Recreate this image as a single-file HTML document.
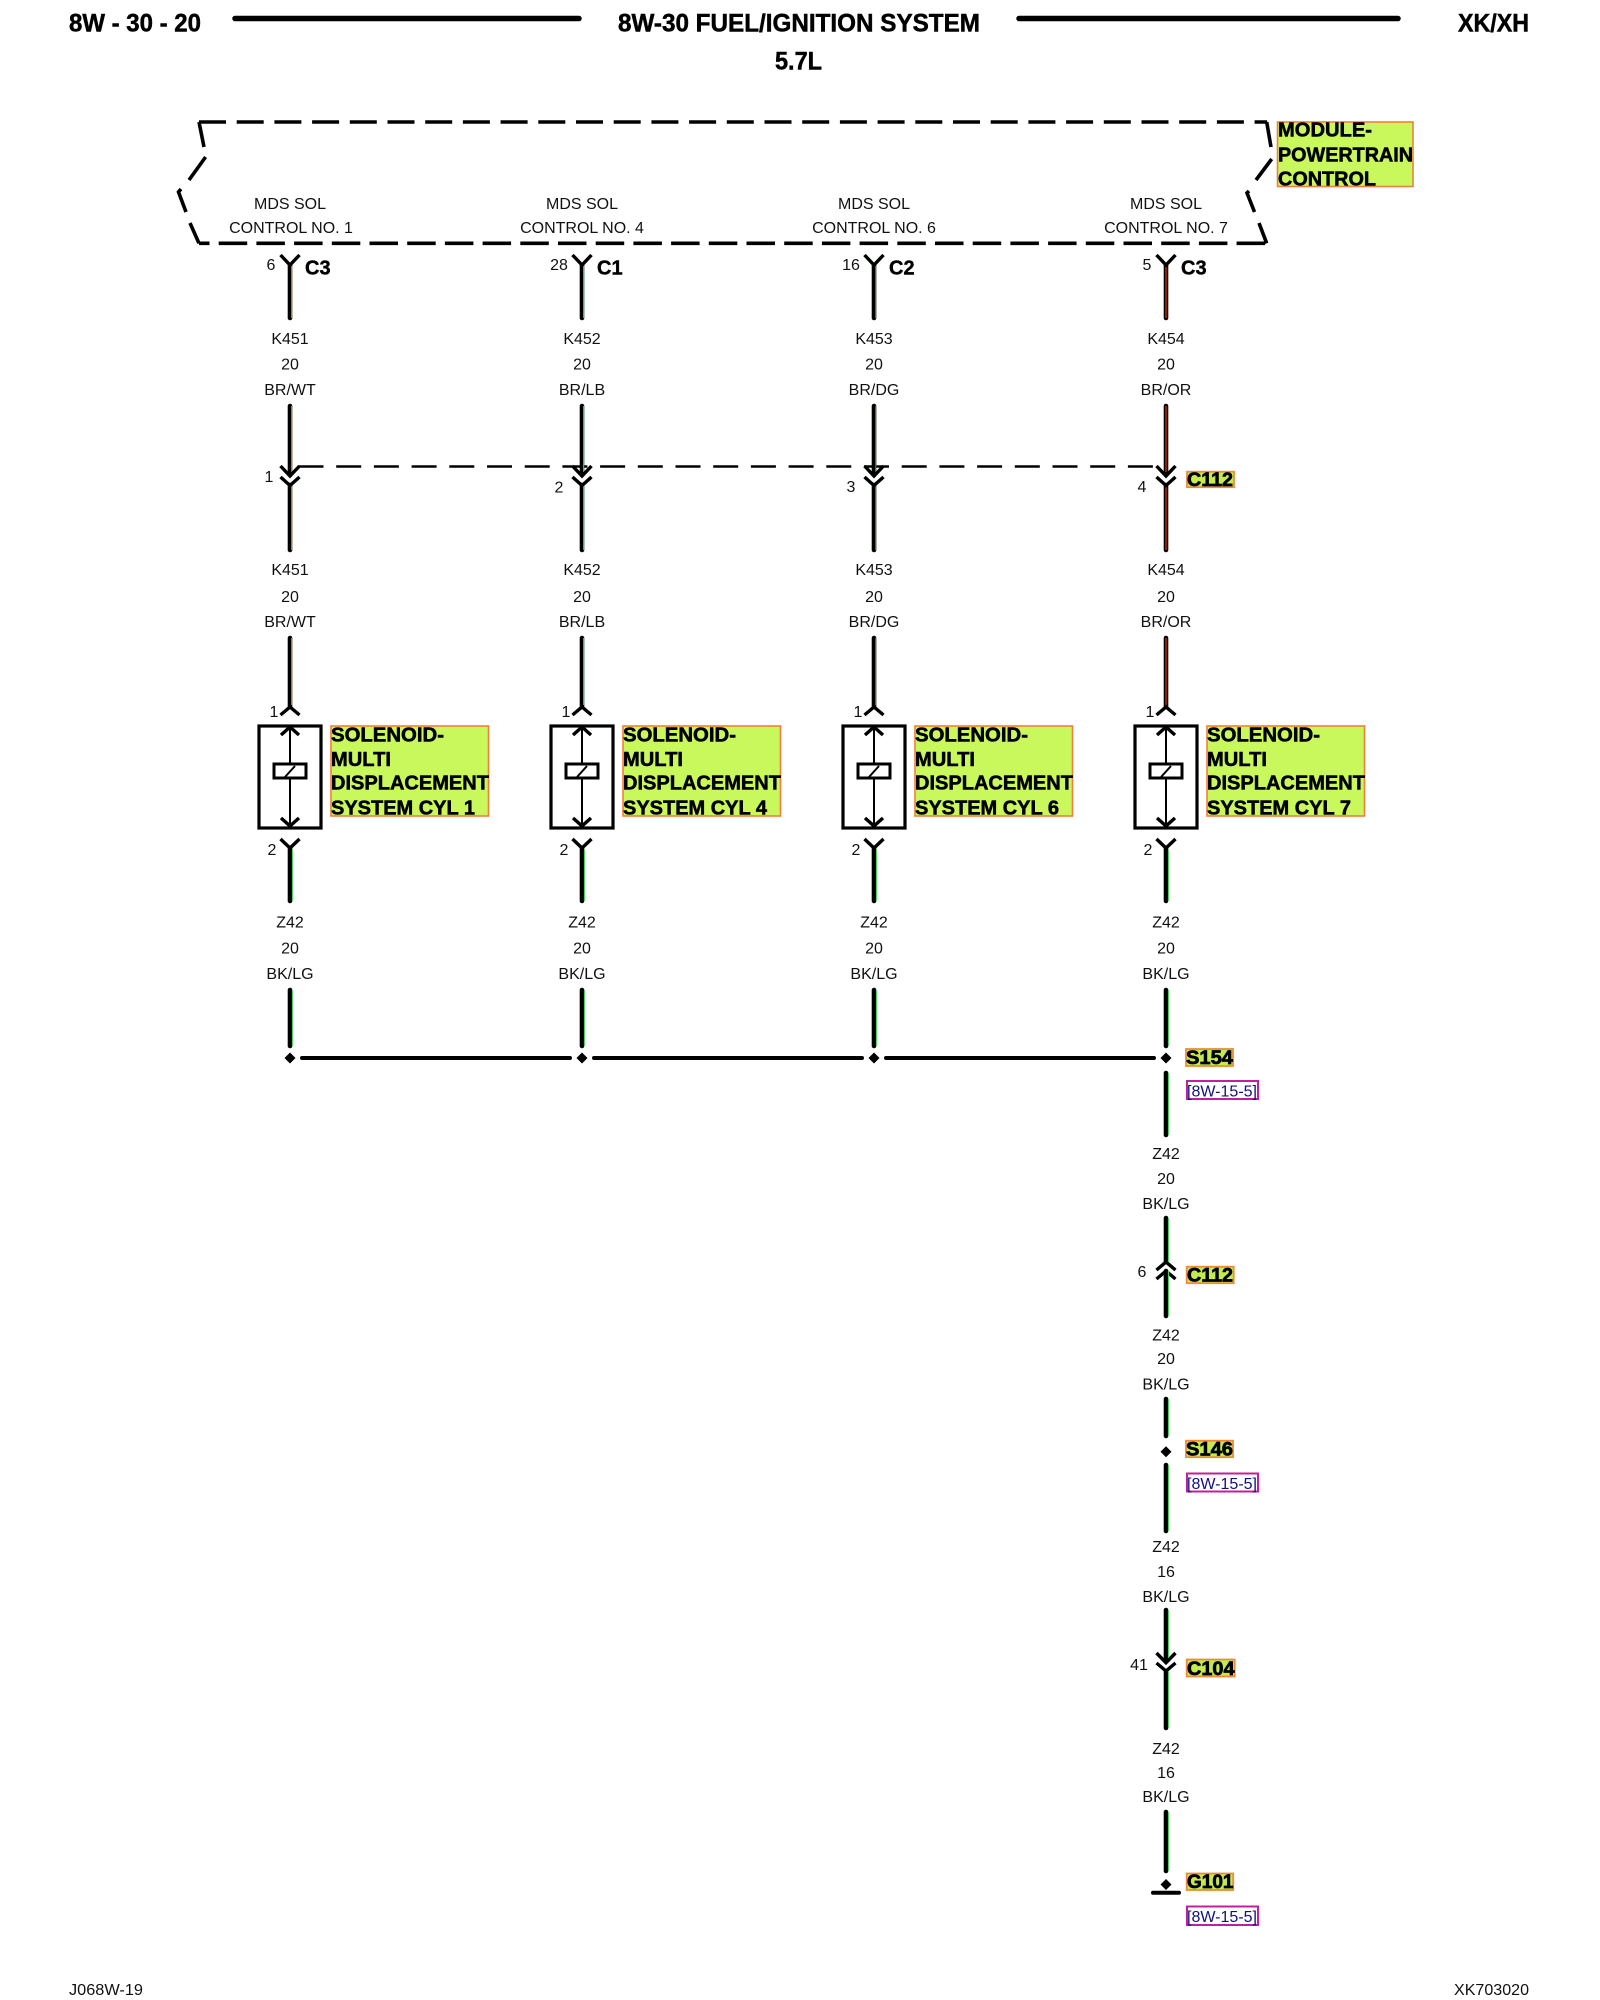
<!DOCTYPE html>
<html><head><meta charset="utf-8"><style>
html,body{margin:0;padding:0;background:#fff}
svg{display:block}
text{font-family:"Liberation Sans",sans-serif;fill:#000}
.t{font-size:16px;text-anchor:middle;fill:#111}
.h{font-size:25px;font-weight:bold;stroke:#000;stroke-width:.5px}
.c{font-size:20px;font-weight:bold;stroke:#000;stroke-width:.4px}
.g{font-size:20px;font-weight:bold;stroke:#000;stroke-width:.55px}
.l{font-size:19px;font-weight:bold;stroke:#000;stroke-width:.7px}
.r{font-size:16px;fill:#101080}
.ch{fill:none;stroke:#000;stroke-width:3.4}
.box{fill:#c9f85c;stroke:#f0803a;stroke-width:1.6}
.lab{fill:#c4ea4e;stroke:#f08a3a;stroke-width:1.8}
.ref{fill:#fff;stroke:#c020a0;stroke-width:2}
.w{stroke:#000;stroke-width:4.6;stroke-linecap:round;fill:none}
.m{fill:none;stroke:#000;stroke-width:3.6}
</style></head><body>
<svg width="1600" height="2000" viewBox="0 0 1600 2000" xmlns="http://www.w3.org/2000/svg">
<rect width="1600" height="2000" fill="#fff"/>
<!-- header -->
<text class="h" x="69" y="31.5" textLength="132" lengthAdjust="spacingAndGlyphs">8W - 30 - 20</text>
<path d="M235 18.5H579M1019 18.5H1398" stroke="#000" stroke-width="5.5" stroke-linecap="round"/>
<text class="h" x="618" y="31.5" textLength="362" lengthAdjust="spacingAndGlyphs">8W-30 FUEL/IGNITION SYSTEM</text>
<text class="h" x="775" y="69.5" textLength="47" lengthAdjust="spacingAndGlyphs">5.7L</text>
<text class="h" x="1458" y="31.5" textLength="71" lengthAdjust="spacingAndGlyphs">XK/XH</text>
<!-- module outline -->
<path class="m" stroke-dasharray="27 10.7" d="M199 122H1267"/>
<path class="m" stroke-dasharray="28.5 9.2" stroke-dashoffset="18" d="M199 243.3H1267"/>
<path class="m" d="M199 122L204 147M205.6 157L189 180M181 189L178.5 192L186 212M190 223L199 243.3"/>
<path class="m" d="M1266.7 122L1271 147M1271.7 159L1256 180M1249 191L1247 193L1254.5 212M1259 223L1266.7 243.3"/>
<rect class="box" x="1277.5" y="122" width="135.5" height="64.5"/>
<text class="g" x="1278" y="136.7" textLength="94" lengthAdjust="spacingAndGlyphs">MODULE-</text>
<text class="g" x="1278" y="161.7" textLength="135" lengthAdjust="spacingAndGlyphs">POWERTRAIN</text>
<text class="g" x="1278" y="185.7" textLength="98" lengthAdjust="spacingAndGlyphs">CONTROL</text>
<!-- module text -->
<text class="t" x="290" y="209">MDS SOL</text><text class="t" x="291" y="233">CONTROL NO. 1</text>
<text class="t" x="582" y="209">MDS SOL</text><text class="t" x="582" y="233">CONTROL NO. 4</text>
<text class="t" x="874" y="209">MDS SOL</text><text class="t" x="874" y="233">CONTROL NO. 6</text>
<text class="t" x="1166" y="209">MDS SOL</text><text class="t" x="1166" y="233">CONTROL NO. 7</text>
<!-- pin / connector labels top -->
<text class="t" x="271" y="270">6</text><text class="c" x="305" y="274.5">C3</text>
<text class="t" x="559" y="270">28</text><text class="c" x="597" y="274.5">C1</text>
<text class="t" x="851" y="270">16</text><text class="c" x="889" y="274.5">C2</text>
<text class="t" x="1147" y="270">5</text><text class="c" x="1181" y="274.5">C3</text>
<!-- dashed link -->
<path d="M298.5 466.5H1157" stroke="#000" stroke-width="2.6" stroke-dasharray="25 12.7" fill="none"/>
<!-- wires top -->
<g class="w">
<path d="M290 265V318M290 406V472M290 485V550M290 638V707"/>
<path d="M582 265V318M582 406V472M582 485V550M582 638V707"/>
<path d="M874 265V318M874 406V472M874 485V550M874 638V707"/>
<path d="M1166 265V318M1166 406V472M1166 485V550M1166 638V707"/>
</g>
<path d="M291.6 266V318M291.6 406V472M291.6 485V550M291.6 638V705" stroke="#b87a18" stroke-width="1.2"/>
<path d="M583.6 266V318M583.6 406V472M583.6 485V550M583.6 638V705" stroke="#20c090" stroke-width="1.2"/>
<path d="M875.6 266V318M875.6 406V472M875.6 485V550M875.6 638V705" stroke="#308020" stroke-width="1.2"/>
<path d="M1166 266V318M1166 406V472M1166 485V550M1166 638V705" stroke="#a02000" stroke-width="1.8"/>
<!-- wire labels 1 -->
<g>
<text class="t" x="290" y="344">K451</text><text class="t" x="290" y="369.7">20</text><text class="t" x="290" y="395">BR/WT</text>
<text class="t" x="582" y="344">K452</text><text class="t" x="582" y="369.7">20</text><text class="t" x="582" y="395">BR/LB</text>
<text class="t" x="874" y="344">K453</text><text class="t" x="874" y="369.7">20</text><text class="t" x="874" y="395">BR/DG</text>
<text class="t" x="1166" y="344">K454</text><text class="t" x="1166" y="369.7">20</text><text class="t" x="1166" y="395">BR/OR</text>
<text class="t" x="290" y="575">K451</text><text class="t" x="290" y="602">20</text><text class="t" x="290" y="627">BR/WT</text>
<text class="t" x="582" y="575">K452</text><text class="t" x="582" y="602">20</text><text class="t" x="582" y="627">BR/LB</text>
<text class="t" x="874" y="575">K453</text><text class="t" x="874" y="602">20</text><text class="t" x="874" y="627">BR/DG</text>
<text class="t" x="1166" y="575">K454</text><text class="t" x="1166" y="602">20</text><text class="t" x="1166" y="627">BR/OR</text>
</g>
<!-- chevrons -->
<g class="ch">
<path d="M280.5 255L290 265L299.5 255M572.5 255L582 265L591.5 255M864.5 255L874 265L883.5 255M1156.5 255L1166 265L1175.5 255"/>
<path d="M280.5 466L290 476L299.5 466M280.5 477L290 485.5L299.5 477"/>
<path d="M572.5 466L582 476L591.5 466M572.5 477L582 485.5L591.5 477"/>
<path d="M864.5 466L874 476L883.5 466M864.5 477L874 485.5L883.5 477"/>
<path d="M1156.5 466L1166 476L1175.5 466M1156.5 477L1166 485.5L1175.5 477"/>
<path d="M280.5 715L290 707L299.5 715M572.5 715L582 707L591.5 715M864.5 715L874 707L883.5 715M1156.5 715L1166 707L1175.5 715"/>
<path d="M280.5 839L290 848L299.5 839M572.5 839L582 848L591.5 839M864.5 839L874 848L883.5 839M1156.5 839L1166 848L1175.5 839"/>
<path d="M1156.5 1270L1166 1262L1175.5 1270M1156.5 1279L1166 1271L1175.5 1279"/>
<path d="M1156.5 1653L1166 1662.7L1175.5 1653M1156.5 1663L1166 1671L1175.5 1663"/>
</g>
<text class="t" x="269" y="482">1</text><text class="t" x="559" y="492.7">2</text><text class="t" x="851" y="492">3</text><text class="t" x="1142" y="492">4</text>
<rect class="lab" x="1187" y="471.7" width="47" height="15.5"/><text class="l" x="1187" y="486" textLength="46" lengthAdjust="spacingAndGlyphs">C112</text>
<!-- solenoids -->
<g>
<rect x="259" y="726" width="62" height="102" fill="none" stroke="#000" stroke-width="3.2"/>
<path d="M290 728V826" stroke="#000" stroke-width="2"/>
<path class="ch" d="M281 735L290 727L299 735M281 818L290 826L299 818"/>
<rect x="274" y="764" width="32" height="14" fill="#fff" stroke="#000" stroke-width="3"/>
<path d="M285 777L295 766" stroke="#000" stroke-width="2"/>
</g>
<g>
<rect x="551" y="726" width="62" height="102" fill="none" stroke="#000" stroke-width="3.2"/>
<path d="M582 728V826" stroke="#000" stroke-width="2"/>
<path class="ch" d="M573 735L582 727L591 735M573 818L582 826L591 818"/>
<rect x="566" y="764" width="32" height="14" fill="#fff" stroke="#000" stroke-width="3"/>
<path d="M577 777L587 766" stroke="#000" stroke-width="2"/>
</g>
<g>
<rect x="843" y="726" width="62" height="102" fill="none" stroke="#000" stroke-width="3.2"/>
<path d="M874 728V826" stroke="#000" stroke-width="2"/>
<path class="ch" d="M865 735L874 727L883 735M865 818L874 826L883 818"/>
<rect x="858" y="764" width="32" height="14" fill="#fff" stroke="#000" stroke-width="3"/>
<path d="M869 777L879 766" stroke="#000" stroke-width="2"/>
</g>
<g>
<rect x="1135" y="726" width="62" height="102" fill="none" stroke="#000" stroke-width="3.2"/>
<path d="M1166 728V826" stroke="#000" stroke-width="2"/>
<path class="ch" d="M1157 735L1166 727L1175 735M1157 818L1166 826L1175 818"/>
<rect x="1150" y="764" width="32" height="14" fill="#fff" stroke="#000" stroke-width="3"/>
<path d="M1161 777L1171 766" stroke="#000" stroke-width="2"/>
</g>
<text class="t" x="274" y="717">1</text><text class="t" x="566" y="717">1</text><text class="t" x="858" y="717">1</text><text class="t" x="1150" y="717">1</text>
<text class="t" x="272" y="855">2</text><text class="t" x="564" y="855">2</text><text class="t" x="856" y="855">2</text><text class="t" x="1148" y="855">2</text>
<!-- solenoid labels -->
<rect class="box" x="331" y="726" width="157.5" height="90"/>
<text class="g" x="331" y="741.7" textLength="113" lengthAdjust="spacingAndGlyphs">SOLENOID-</text><text class="g" x="331" y="766" textLength="60" lengthAdjust="spacingAndGlyphs">MULTI</text><text class="g" x="331" y="789.3" textLength="158" lengthAdjust="spacingAndGlyphs">DISPLACEMENT</text><text class="g" x="331" y="814.3" textLength="144" lengthAdjust="spacingAndGlyphs">SYSTEM CYL 1</text>
<rect class="box" x="623" y="726" width="157.5" height="90"/>
<text class="g" x="623" y="741.7" textLength="113" lengthAdjust="spacingAndGlyphs">SOLENOID-</text><text class="g" x="623" y="766" textLength="60" lengthAdjust="spacingAndGlyphs">MULTI</text><text class="g" x="623" y="789.3" textLength="158" lengthAdjust="spacingAndGlyphs">DISPLACEMENT</text><text class="g" x="623" y="814.3" textLength="144" lengthAdjust="spacingAndGlyphs">SYSTEM CYL 4</text>
<rect class="box" x="915" y="726" width="157.5" height="90"/>
<text class="g" x="915" y="741.7" textLength="113" lengthAdjust="spacingAndGlyphs">SOLENOID-</text><text class="g" x="915" y="766" textLength="60" lengthAdjust="spacingAndGlyphs">MULTI</text><text class="g" x="915" y="789.3" textLength="158" lengthAdjust="spacingAndGlyphs">DISPLACEMENT</text><text class="g" x="915" y="814.3" textLength="144" lengthAdjust="spacingAndGlyphs">SYSTEM CYL 6</text>
<rect class="box" x="1207" y="726" width="157.5" height="90"/>
<text class="g" x="1207" y="741.7" textLength="113" lengthAdjust="spacingAndGlyphs">SOLENOID-</text><text class="g" x="1207" y="766" textLength="60" lengthAdjust="spacingAndGlyphs">MULTI</text><text class="g" x="1207" y="789.3" textLength="158" lengthAdjust="spacingAndGlyphs">DISPLACEMENT</text><text class="g" x="1207" y="814.3" textLength="144" lengthAdjust="spacingAndGlyphs">SYSTEM CYL 7</text>
<!-- lower wires -->
<g class="w">
<path d="M290 848V901M290 990V1046M582 848V901M582 990V1046M874 848V901M874 990V1046M1166 848V901M1166 990V1046"/>
<path d="M1166 1073V1135M1166 1218V1262M1166 1271V1316M1166 1399V1436M1166 1465V1531M1166 1610V1660M1166 1671V1728M1166 1812V1871"/>
<path d="M302 1058H570M594 1058H862M886 1058H1154" stroke-width="4"/>
<path d="M1153 1892.7H1179" stroke-width="4"/>
</g>
<path d="M292.5 850V901M292.5 990V1046M584.5 850V901M584.5 990V1046M876.5 850V901M876.5 990V1046M1168.5 850V901M1168.5 990V1046M1168.5 1073V1135M1168.5 1218V1262M1168.5 1271V1316M1168.5 1399V1436M1168.5 1465V1531M1168.5 1610V1658M1168.5 1671V1728M1168.5 1812V1871" stroke="#50d060" stroke-width="1.2"/>
<!-- diamonds -->
<path d="M290 1052.5L295.5 1058L290 1063.5L284.5 1058ZM582 1052.5L587.5 1058L582 1063.5L576.5 1058ZM874 1052.5L879.5 1058L874 1063.5L868.5 1058ZM1166 1052.5L1171.5 1058L1166 1063.5L1160.5 1058ZM1166 1446.2L1171.5 1451.7L1166 1457.2L1160.5 1451.7ZM1166 1879L1171.5 1884.5L1166 1890L1160.5 1884.5Z" fill="#000"/>
<!-- Z42 labels -->
<text class="t" x="290" y="927.3">Z42</text><text class="t" x="290" y="953.3">20</text><text class="t" x="290" y="979">BK/LG</text>
<text class="t" x="582" y="927.3">Z42</text><text class="t" x="582" y="953.3">20</text><text class="t" x="582" y="979">BK/LG</text>
<text class="t" x="874" y="927.3">Z42</text><text class="t" x="874" y="953.3">20</text><text class="t" x="874" y="979">BK/LG</text>
<text class="t" x="1166" y="927.3">Z42</text><text class="t" x="1166" y="953.3">20</text><text class="t" x="1166" y="979">BK/LG</text>
<text class="t" x="1166" y="1159">Z42</text><text class="t" x="1166" y="1184">20</text><text class="t" x="1166" y="1209">BK/LG</text>
<text class="t" x="1166" y="1340.7">Z42</text><text class="t" x="1166" y="1364">20</text><text class="t" x="1166" y="1389.3">BK/LG</text>
<text class="t" x="1166" y="1552">Z42</text><text class="t" x="1166" y="1577">16</text><text class="t" x="1166" y="1602">BK/LG</text>
<text class="t" x="1166" y="1754">Z42</text><text class="t" x="1166" y="1778">16</text><text class="t" x="1166" y="1802">BK/LG</text>
<text class="t" x="1142" y="1277">6</text><text class="t" x="1139" y="1670">41</text>
<!-- tags -->
<rect class="lab" x="1186" y="1049" width="47" height="17"/><text class="l" x="1186" y="1064" textLength="47" lengthAdjust="spacingAndGlyphs">S154</text>
<rect class="ref" x="1187" y="1081" width="71" height="18"/><text class="r" x="1187" y="1096.7" textLength="70" lengthAdjust="spacingAndGlyphs">[8W-15-5]</text>
<rect class="lab" x="1186.7" y="1266.7" width="47" height="16.5"/><text class="l" x="1187" y="1281.7" textLength="46" lengthAdjust="spacingAndGlyphs">C112</text>
<rect class="lab" x="1186" y="1440.7" width="47" height="16.5"/><text class="l" x="1186" y="1455.7" textLength="47" lengthAdjust="spacingAndGlyphs">S146</text>
<rect class="ref" x="1187" y="1473.5" width="71" height="18"/><text class="r" x="1187" y="1489" textLength="70" lengthAdjust="spacingAndGlyphs">[8W-15-5]</text>
<rect class="lab" x="1186.7" y="1659.5" width="48" height="17"/><text class="l" x="1187" y="1675" textLength="47.5" lengthAdjust="spacingAndGlyphs">C104</text>
<rect class="lab" x="1186.7" y="1873.5" width="46.5" height="16.5"/><text class="l" x="1187" y="1888" textLength="46.5" lengthAdjust="spacingAndGlyphs">G101</text>
<rect class="ref" x="1187" y="1906.5" width="71" height="18.5"/><text class="r" x="1187" y="1922" textLength="70" lengthAdjust="spacingAndGlyphs">[8W-15-5]</text>
<!-- footer -->
<text class="t" style="text-anchor:start" x="69" y="1995" textLength="74" lengthAdjust="spacingAndGlyphs">J068W-19</text>
<text class="t" style="text-anchor:start" x="1454" y="1995" textLength="75" lengthAdjust="spacingAndGlyphs">XK703020</text>
</svg>
</body></html>
